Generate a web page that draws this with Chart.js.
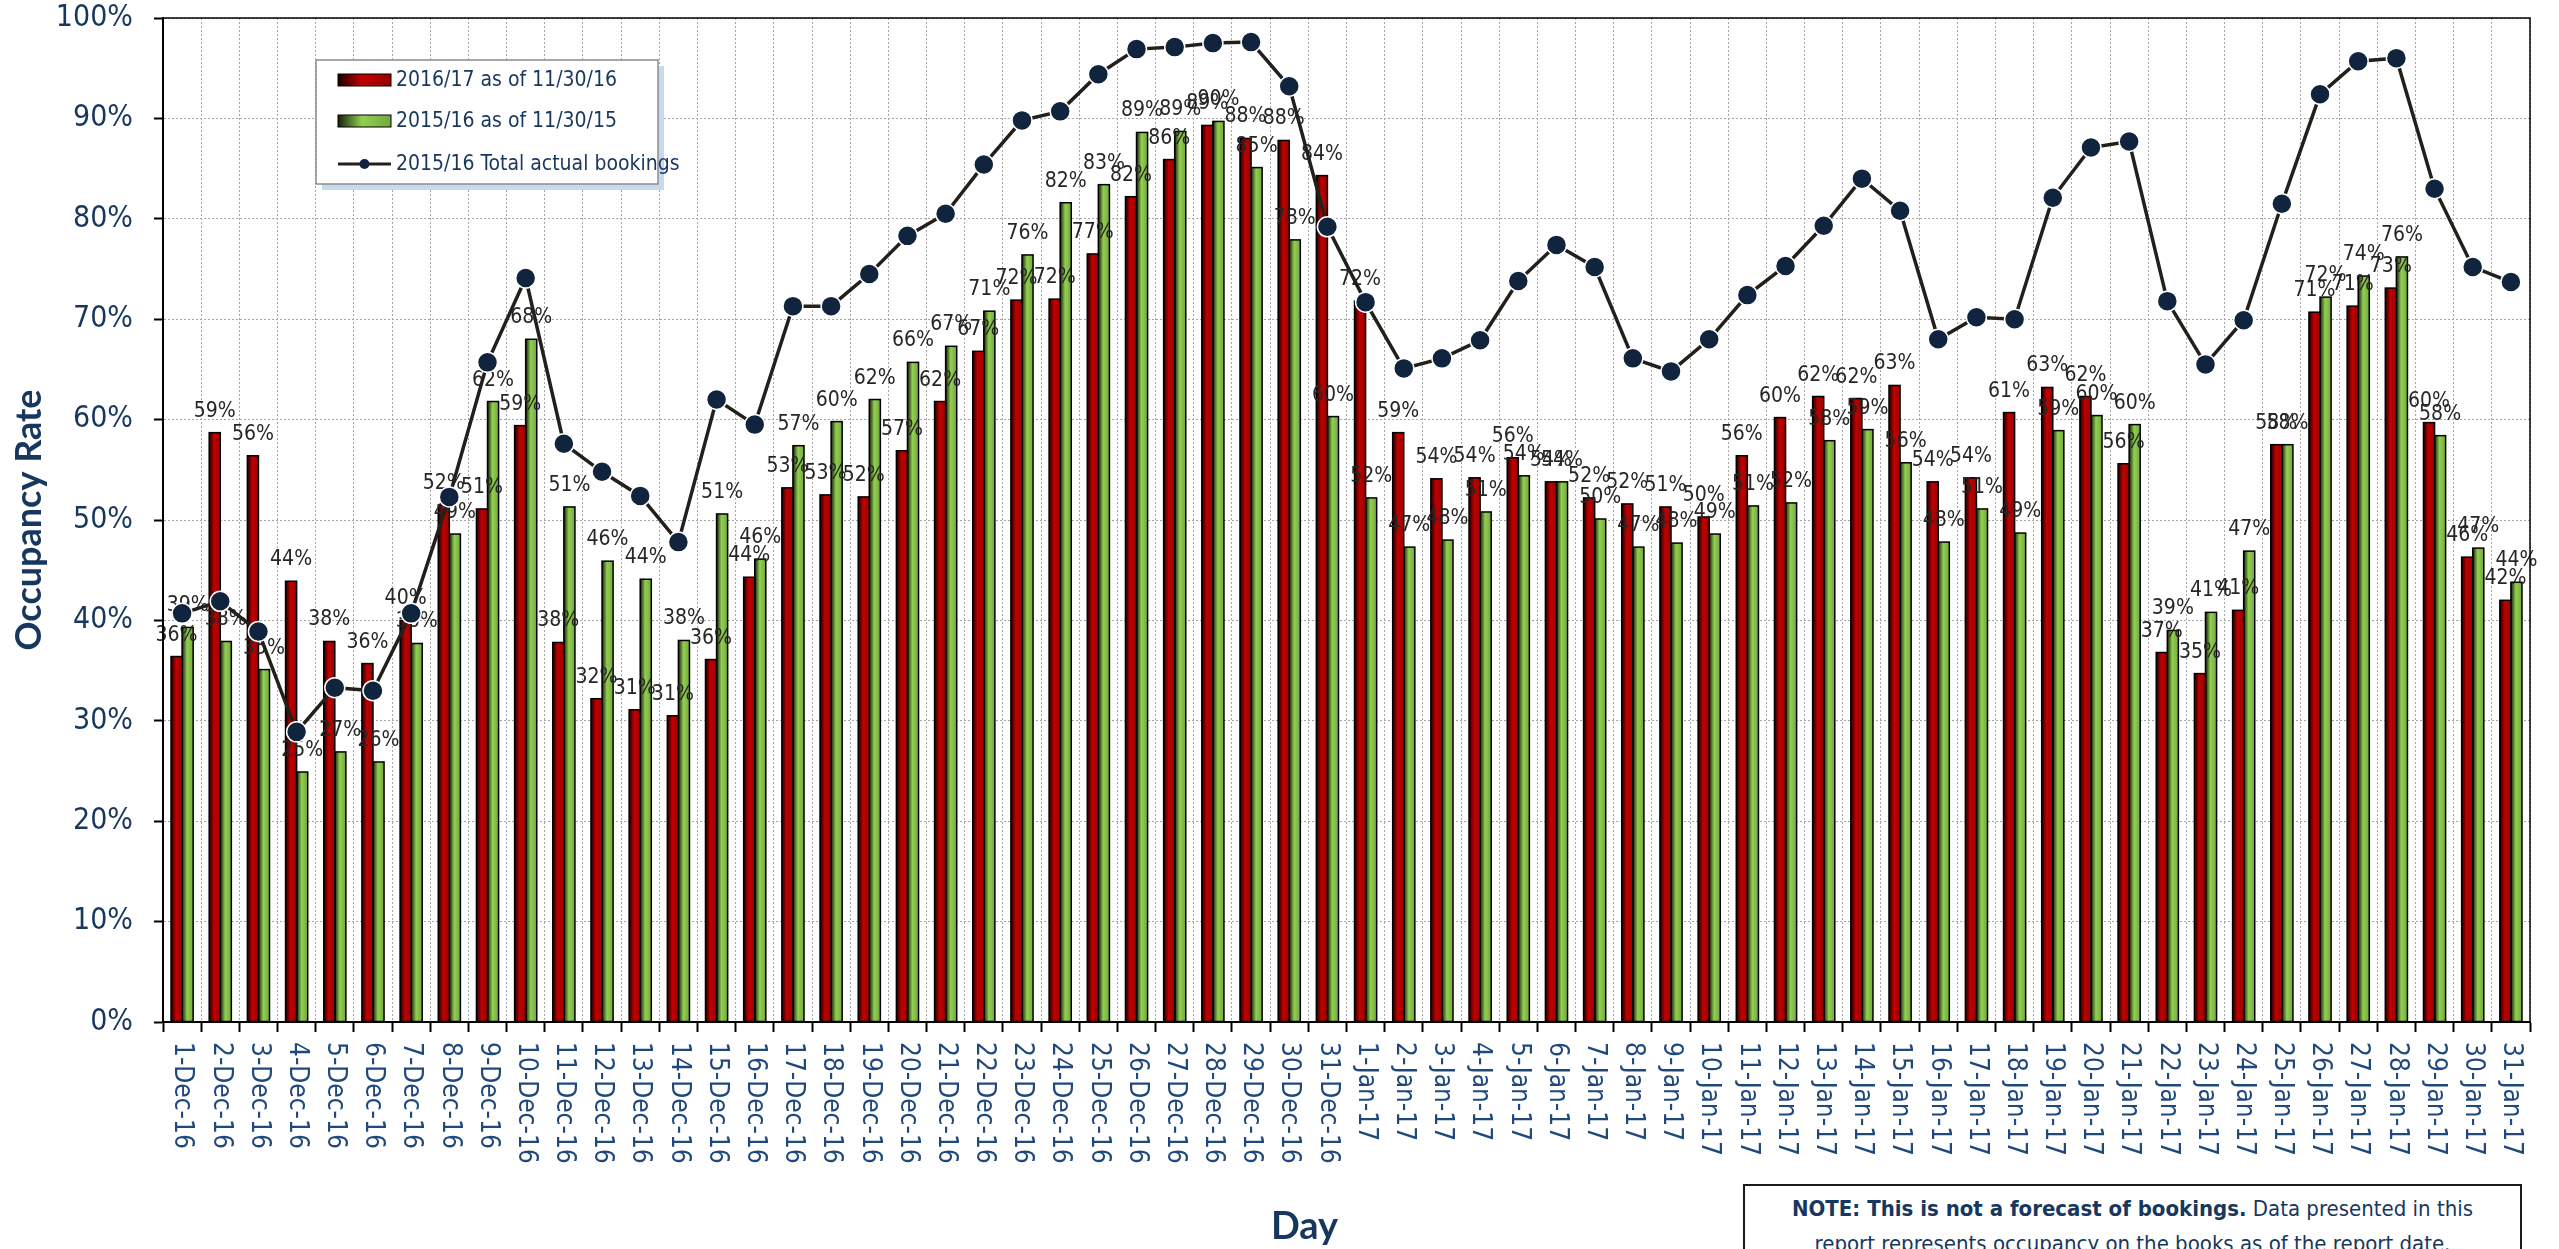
<!DOCTYPE html>
<html>
<head>
<meta charset="utf-8">
<title>Occupancy Rate by Day</title>
<script src="https://cdn.jsdelivr.net/npm/chart.js@4.4.1/dist/chart.umd.min.js"></script>
<style>
  html, body { margin: 0; padding: 0; background: #fff; }
  #wrap { position: relative; width: 2559px; height: 1249px; overflow: hidden; }
  #note {
    position: absolute; left: 1743px; top: 1184px; width: 779px; height: 110px;
    box-sizing: border-box; border: 2px solid #1a1a1a; background: #fff;
    color: #17375E; font: 22px 'Liberation Sans Narrow', 'DejaVu Sans Condensed', sans-serif;
    text-align: center; line-height: 35px; padding-top: 5px; white-space: nowrap;
  }
</style>
</head>
<body>
<div id="wrap">
  <canvas id="occChart"></canvas>
  <div id="note"><b>NOTE: This is not a forecast of bookings.</b> Data presented in this<br>report represents occupancy on the books as of the report date.</div>
</div>
<script>
// day labels
const days = [
  "1-Dec-16","2-Dec-16","3-Dec-16","4-Dec-16","5-Dec-16","6-Dec-16","7-Dec-16","8-Dec-16",
  "9-Dec-16","10-Dec-16","11-Dec-16","12-Dec-16","13-Dec-16","14-Dec-16","15-Dec-16","16-Dec-16",
  "17-Dec-16","18-Dec-16","19-Dec-16","20-Dec-16","21-Dec-16","22-Dec-16","23-Dec-16","24-Dec-16",
  "25-Dec-16","26-Dec-16","27-Dec-16","28-Dec-16","29-Dec-16","30-Dec-16","31-Dec-16",
  "1-Jan-17","2-Jan-17","3-Jan-17","4-Jan-17","5-Jan-17","6-Jan-17","7-Jan-17","8-Jan-17",
  "9-Jan-17","10-Jan-17","11-Jan-17","12-Jan-17","13-Jan-17","14-Jan-17","15-Jan-17","16-Jan-17",
  "17-Jan-17","18-Jan-17","19-Jan-17","20-Jan-17","21-Jan-17","22-Jan-17","23-Jan-17","24-Jan-17",
  "25-Jan-17","26-Jan-17","27-Jan-17","28-Jan-17","29-Jan-17","30-Jan-17","31-Jan-17"
];

// 2016/17 as of 11/30/16 (%)
const occ1617 = [
  36.4, 58.7, 56.4, 43.9, 37.9, 35.7, 40.0, 51.5, 51.1, 59.4, 37.8, 32.2, 31.1, 30.5, 36.1, 44.3,
  53.2, 52.5, 52.3, 56.9, 61.8, 66.8, 71.9, 72.0, 76.5, 82.2, 85.9, 89.3, 88.0, 87.8, 84.3,
  71.8, 58.7, 54.1, 54.2, 56.2, 53.8, 52.2, 51.6, 51.3, 50.3, 56.4, 60.2, 62.3, 62.1, 63.4, 53.8,
  54.2, 60.7, 63.2, 62.3, 55.6, 36.8, 34.7, 41.0, 57.5, 70.7, 71.3, 73.1, 59.7, 46.3, 42.0
];

// 2015/16 as of 11/30/15 (%)
const occ1516 = [
  39.3, 37.9, 35.1, 24.9, 26.9, 25.9, 37.7, 48.6, 61.8, 68.0, 51.3, 45.9, 44.1, 38.0, 50.6, 46.1,
  57.4, 59.8, 62.0, 65.7, 67.3, 70.8, 76.4, 81.6, 83.4, 88.6, 88.7, 89.7, 85.1, 77.9, 60.3,
  52.2, 47.3, 48.0, 50.8, 54.4, 53.8, 50.1, 47.3, 47.7, 48.6, 51.4, 51.7, 57.9, 59.0, 55.7, 47.8,
  51.1, 48.7, 58.9, 60.4, 59.5, 39.0, 40.8, 46.9, 57.5, 72.2, 74.3, 76.2, 58.4, 47.2, 43.8
];

// 2015/16 total actual bookings (%)
const actual1516 = [
  40.7, 41.9, 38.9, 28.9, 33.3, 33.0, 40.7, 52.3, 65.7, 74.1, 57.6, 54.8, 52.4, 47.8, 62.0, 59.5,
  71.3, 71.3, 74.5, 78.3, 80.5, 85.4, 89.8, 90.7, 94.4, 96.9, 97.1, 97.5, 97.6, 93.2, 79.2,
  71.7, 65.1, 66.1, 67.9, 73.8, 77.4, 75.2, 66.1, 64.8, 68.0, 72.4, 75.3, 79.3, 84.0, 80.8, 68.0,
  70.2, 70.0, 82.1, 87.1, 87.7, 71.8, 65.5, 69.9, 81.5, 92.4, 95.7, 96.0, 83.0, 75.2, 73.7
];

const yTicks = [0, 10, 20, 30, 40, 50, 60, 70, 80, 90, 100];

const NAVY = '#17375E';
const NARROW = "'Liberation Sans Narrow', 'DejaVu Sans Condensed', sans-serif";

// dark left edge on the bars, like the excel gradient fill
function shade(ctx, left, top, w, h) {
  const g = ctx.createLinearGradient(left, 0, left + w, 0);
  g.addColorStop(0, 'rgba(0,0,0,0.85)');
  g.addColorStop(0.45, 'rgba(0,0,0,0)');
  g.addColorStop(1, 'rgba(0,0,0,0.2)');
  ctx.fillStyle = g;
  ctx.fillRect(left, top, w, h);
}

function drawBarLabels(chart) {
  const ctx = chart.ctx;
  ctx.save();
  ctx.font = '21px ' + NARROW;
  ctx.fillStyle = '#262626';
  ctx.textAlign = 'center';
  ctx.textBaseline = 'alphabetic';
  chart.data.datasets.forEach((ds, i) => {
    if (ds.type === 'line') return;
    chart.getDatasetMeta(i).data.forEach((el, j) => {
      ctx.fillText(Math.round(ds.data[j]) + '%', el.x, el.y - 16);
    });
  });
  ctx.restore();
}

function drawLegend(chart) {
  const ctx = chart.ctx;
  const ca = chart.chartArea;
  const bx = ca.left + 153, by = ca.top + 42, bw = 342, bh = 124;
  ctx.save();
  ctx.fillStyle = '#C6D9F1';
  ctx.fillRect(bx + 6, by + 6, bw, bh);
  ctx.fillStyle = '#fff';
  ctx.fillRect(bx, by, bw, bh);
  ctx.strokeStyle = '#8c8c8c';
  ctx.lineWidth = 1.5;
  ctx.strokeRect(bx, by, bw, bh);

  const rowY = [by + 20, by + 61, by + 104];
  const sx = bx + 22, sw = 53;
  ctx.font = '21px ' + NARROW;
  ctx.textBaseline = 'middle';
  ctx.textAlign = 'left';
  chart.data.datasets.forEach((ds, i) => {
    const y = rowY[i];
    if (ds.type === 'line') {
      ctx.strokeStyle = ds.borderColor;
      ctx.lineWidth = 3;
      ctx.beginPath();
      ctx.moveTo(sx, y);
      ctx.lineTo(sx + sw, y);
      ctx.stroke();
      ctx.fillStyle = ds.pointBackgroundColor;
      ctx.beginPath();
      ctx.arc(sx + sw / 2, y, 5, 0, Math.PI * 2);
      ctx.fill();
    } else {
      ctx.fillStyle = ds.backgroundColor;
      ctx.fillRect(sx, y - 6, sw, 12);
      shade(ctx, sx, y - 6, sw, 12);
      ctx.strokeStyle = '#000';
      ctx.lineWidth = 1;
      ctx.strokeRect(sx, y - 6, sw, 12);
    }
    ctx.fillStyle = NAVY;
    ctx.fillText(ds.label, sx + sw + 5, y + 1);
  });
  ctx.restore();
}

const occExtras = {
  id: 'occExtras',
  afterDatasetDraw(chart, args) {
    const ds = chart.data.datasets[args.index];
    if (ds.type === 'line') return;
    const ctx = chart.ctx;
    ctx.save();
    args.meta.data.forEach(el => {
      const left = el.x - el.width / 2;
      shade(ctx, left, el.y, el.width, el.base - el.y);
      ctx.strokeStyle = '#000';
      ctx.lineWidth = 1.5;
      ctx.strokeRect(left, el.y, el.width, el.base - el.y);
    });
    ctx.restore();
  },
  beforeDatasetDraw(chart, args) {
    // labels sit under the line, on top of the bars
    if (chart.data.datasets[args.index].type === 'line') drawBarLabels(chart);
  },
  afterDraw(chart) {
    const ctx = chart.ctx;
    const ca = chart.chartArea;
    const xs = chart.scales.x;
    ctx.save();
    // frame
    ctx.strokeStyle = '#000';
    ctx.lineWidth = 1.5;
    ctx.strokeRect(ca.left, ca.top, ca.right - ca.left, ca.bottom - ca.top);

    // day labels, rotated to read downwards
    ctx.font = "26px 'DejaVu Sans Condensed', 'DejaVu Sans', sans-serif";
    ctx.fillStyle = '#1F497D';
    ctx.textAlign = 'left';
    ctx.textBaseline = 'middle';
    chart.data.labels.forEach((lbl, i) => {
      ctx.save();
      ctx.translate(xs.getPixelForValue(i), ca.bottom + 20);
      ctx.rotate(Math.PI / 2);
      ctx.fillText(lbl, 0, 0);
      ctx.restore();
    });

    // axis titles
    ctx.fillStyle = NAVY;
    ctx.textAlign = 'center';
    ctx.textBaseline = 'alphabetic';
    ctx.font = "bold 38px Lato, 'Liberation Sans', sans-serif";
    ctx.fillText('Day', (ca.left + ca.right) / 2 - 42, ca.bottom + 217);
    ctx.save();
    ctx.font = "bold 36px Lato, 'Liberation Sans', sans-serif";
    ctx.translate(29, (ca.top + ca.bottom) / 2);
    ctx.rotate(-Math.PI / 2);
    ctx.textBaseline = 'middle';
    ctx.fillText('Occupancy Rate', 0, 0);
    ctx.restore();
    ctx.restore();

    drawLegend(chart);
  }
};

new Chart(document.getElementById('occChart'), {
  type: 'bar',
  data: {
    labels: days,
    datasets: [
      {
        type: 'bar',
        label: '2016/17 as of 11/30/16',
        data: occ1617,
        backgroundColor: '#C00000',
        borderWidth: 0,
        categoryPercentage: 0.58,
        barPercentage: 1.0,
        order: 1
      },
      {
        type: 'bar',
        label: '2015/16 as of 11/30/15',
        data: occ1516,
        backgroundColor: '#92D050',
        borderWidth: 0,
        categoryPercentage: 0.58,
        barPercentage: 1.0,
        order: 1
      },
      {
        type: 'line',
        label: '2015/16 Total actual bookings',
        data: actual1516,
        borderColor: '#231F1A',
        borderWidth: 3.5,
        tension: 0,
        pointRadius: 10,
        pointBackgroundColor: '#10243E',
        pointBorderColor: '#ffffff',
        pointBorderWidth: 1.5,
        order: 0
      }
    ]
  },
  options: {
    responsive: true,
    maintainAspectRatio: false,
    animation: false,
    layout: { padding: { left: 0, right: 29, top: 18, bottom: 0 } },
    plugins: {
      legend: { display: false },
      tooltip: { enabled: false }
    },
    scales: {
      x: {
        offset: true,
        grid: { offset: true, color: '#a6a6a6', lineWidth: 1, tickLength: 10, tickColor: '#000', tickWidth: 2 },
        border: { display: true, color: '#000', width: 2, dash: [2, 2] },
        ticks: { display: false, autoSkip: false },
        afterFit: (scale) => { scale.height = 227; scale.paddingLeft = 0; scale.paddingRight = 0; }
      },
      y: {
        min: 0,
        max: 100,
        afterBuildTicks: (scale) => { scale.ticks = yTicks.map(v => ({ value: v })); },
        grid: { color: '#a6a6a6', lineWidth: 1, tickLength: 9, tickColor: '#000', tickWidth: 2 },
        border: { display: true, color: '#000', width: 2, dash: [2, 2] },
        ticks: {
          padding: 21,
          color: NAVY,
          font: { family: NARROW, size: 30 },
          callback: (v) => v + '%'
        },
        afterFit: (scale) => { scale.width = 163; scale.paddingTop = 0; scale.paddingBottom = 0; }
      }
    }
  },
  plugins: [occExtras]
});
</script>
</body>
</html>
